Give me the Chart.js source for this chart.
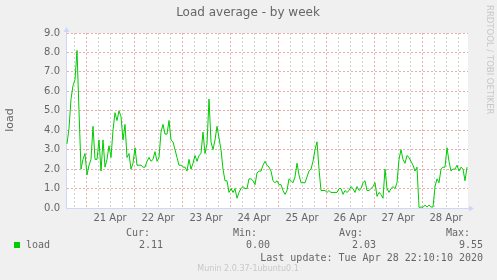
<!DOCTYPE html>
<html>
<head>
<meta charset="utf-8">
<script src="https://cdn.jsdelivr.net/npm/chart.js@4.4.1/dist/chart.umd.min.js"></script>
<style>
  html, body { margin: 0; padding: 0; background: #f0f0f0; }
  canvas { display: block; }
</style>
</head>
<body>
<canvas id="load" width="497" height="280"></canvas>
<script>
// hours are counted from 21 Apr 00:00, one sample per hour
const firstSampleHour = -9.5;
const sampleStep = 1;
const axisMinHour = -10;
const axisMaxHour = 191;

const dayLabels = ["21 Apr", "22 Apr", "23 Apr", "24 Apr", "25 Apr", "26 Apr", "27 Apr", "28 Apr"];

const loadValues = [
  3.3, 4.1, 5.6, 6.3, 6.6, 8.1, 5.0, 2.0, 2.5, 2.8, 1.7, 2.2, 2.5, 4.2, 2.5, 2.5, 3.5, 1.9, 3.5, 2.1,
  2.5, 3.2, 2.6, 4.0, 4.9, 4.5, 5.0, 4.7, 3.5, 4.3, 2.6, 2.8, 2.0, 2.3, 3.1,
  2.2, 2.2, 2.2, 2.1, 2.1, 2.4, 2.6, 2.4, 2.5, 2.9, 2.4, 2.6, 3.9, 4.3, 3.8, 3.8, 4.5, 3.5, 3.4, 3.0,
  2.6, 2.2, 2.2, 2.1, 2.1, 1.9, 2.5, 2.0, 2.3, 2.7, 2.4, 2.7, 2.8, 3.9,
  2.8, 3.3, 5.6, 3.4, 3.0, 3.5, 4.2, 3.6, 3.0, 2.0, 1.4, 1.4, 0.8, 1.0, 0.8, 1.0, 0.5, 0.8, 1.0, 1.1,
  1.0, 1.0, 1.5, 1.5, 1.4, 1.2, 1.8, 1.9, 1.9, 2.2, 2.4, 2.2, 2.1, 1.9,
  1.4, 1.3, 1.4, 1.2, 1.2, 0.9, 0.7, 0.9, 1.5, 1.4, 1.3, 1.6, 2.3, 1.7, 1.3, 1.3, 1.3, 1.6, 1.9, 2.0,
  2.4, 3.0, 3.4, 2.0, 0.9, 0.9, 0.9, 0.8, 0.9, 0.8, 0.8, 0.8, 0.8, 1.0,
  1.0, 0.7, 0.9, 0.8, 0.9, 1.1, 1.0, 0.8, 1.1, 0.9, 1.0, 1.3, 1.4, 0.9, 0.9, 1.0, 1.1, 1.3, 0.6, 0.8,
  0.7, 0.5, 2.0, 1.0, 0.8, 1.0, 1.1, 1.0, 1.3, 2.5, 3.0, 2.5, 2.3, 2.7,
  2.6, 2.4, 2.2, 1.9, 2.1, 0.03, 0.05, 0.03, 0.15, 0.05, 0.15, 0.05, 0.05, 1.1, 1.5, 1.3, 2.0, 2.1, 2.1, 3.1,
  2.4, 1.9, 2.0, 2.0, 2.2, 1.9, 2.1, 2.0, 1.4, 2.1
];

const legendName = "load";
const statLabels = ["Cur:", "Min:", "Avg:", "Max:"];
const statValues = ["2.11", "0.00", "2.03", "9.55"];
const lastUpdate = "Last update: Tue Apr 28 22:10:10 2020";
const versionText = "Munin 2.0.37-1ubuntu0.1";

const GREEN = "#00cc00";
const FONT_COL = "#666666";
const AXIS_COL = "#cfd6f8";
const GRID_COL = "#d2d2d2";
const MGRID_COL = "#edaaaa";

const points = loadValues.map((v, i) => ({ x: firstSampleHour + i * sampleStep, y: v }));

const muninFrame = {
  id: "muninFrame",
  beforeDraw(chart) {
    const { ctx, chartArea: a } = chart;
    ctx.save();
    ctx.fillStyle = "#f0f0f0";
    ctx.fillRect(0, 0, chart.width, chart.height);
    ctx.fillStyle = "#ffffff";
    ctx.fillRect(a.left, a.top, a.right - a.left, a.bottom - a.top);
    ctx.restore();
  },
  afterDraw(chart) {
    const { ctx, chartArea: a } = chart;
    ctx.save();

    // axis arrows
    ctx.strokeStyle = AXIS_COL;
    ctx.fillStyle = AXIS_COL;
    ctx.lineWidth = 1;
    ctx.beginPath();
    ctx.moveTo(a.left + 0.5, a.top);
    ctx.lineTo(a.left + 0.5, a.top - 3);
    ctx.moveTo(a.right, a.bottom + 0.5);
    ctx.lineTo(a.right + 3, a.bottom + 0.5);
    ctx.stroke();
    ctx.beginPath();
    ctx.moveTo(a.left + 0.5, a.top - 6);
    ctx.lineTo(a.left - 2.5, a.top - 1);
    ctx.lineTo(a.left + 3.5, a.top - 1);
    ctx.fill();
    ctx.beginPath();
    ctx.moveTo(a.right + 6, a.bottom + 0.5);
    ctx.lineTo(a.right + 1, a.bottom - 2.5);
    ctx.lineTo(a.right + 1, a.bottom + 3.5);
    ctx.fill();

    // title
    ctx.fillStyle = FONT_COL;
    ctx.font = "12px 'DejaVu Sans'";
    ctx.textAlign = "center";
    ctx.textBaseline = "middle";
    ctx.fillText("Load average - by week", 248, 13);

    // vertical axis title
    ctx.save();
    ctx.translate(10, 120);
    ctx.rotate(-Math.PI / 2);
    ctx.font = "11px 'DejaVu Sans'";
    ctx.fillText("load", 0, 0);
    ctx.restore();

    // watermark
    ctx.save();
    ctx.translate(489, 5);
    ctx.rotate(Math.PI / 2);
    ctx.fillStyle = "#c8c8c8";
    ctx.font = "8.5px 'DejaVu Sans'";
    ctx.textAlign = "left";
    ctx.fillText("RRDTOOL / TOBI OETIKER", 0, 0);
    ctx.restore();

    // legend
    ctx.fillStyle = GREEN;
    ctx.fillRect(14, 242, 6, 6);
    ctx.fillStyle = FONT_COL;
    ctx.font = "10px 'DejaVu Sans Mono'";
    ctx.textAlign = "left";
    ctx.fillText(legendName, 26, 245);
    const labelRight = [150, 257, 363, 470];
    ctx.textAlign = "right";
    statLabels.forEach((s, i) => {
      ctx.fillText(s, labelRight[i], 233);
      ctx.fillText(statValues[i], labelRight[i] + 13, 245);
    });
    ctx.fillText(lastUpdate, 483, 258);

    ctx.fillStyle = "#c8c8c8";
    ctx.font = "8px 'DejaVu Sans'";
    ctx.textAlign = "center";
    ctx.fillText(versionText, 248, 269);
    ctx.restore();
  }
};

const ctx = document.getElementById("load").getContext("2d");
const chart = new Chart(ctx, {
  type: "line",
  data: {
    datasets: [
      {
        label: legendName,
        data: points,
        borderColor: GREEN,
        borderWidth: 1,
        pointRadius: 0,
        tension: 0,
        fill: false,
      },
    ],
  },
  options: {
    responsive: false,
    animation: false,
    layout: { padding: { top: 33, right: 29, left: 0, bottom: 0 } },
    plugins: { legend: { display: false }, tooltip: { enabled: false } },
    scales: {
      x: {
        type: "linear",
        min: axisMinHour,
        max: axisMaxHour,
        afterFit: (s) => { s.height = 72; },
        afterBuildTicks: (s) => {
          const ticks = [];
          for (let h = -6; h <= 186; h += 6) ticks.push({ value: h });
          s.ticks = ticks;
        },
        grid: {
          drawTicks: false,
          lineWidth: 1,
          color: (c) => (c.tick && c.tick.value % 24 === 0 ? MGRID_COL : GRID_COL),
        },
        border: { color: AXIS_COL, dash: [2, 2] },
        ticks: {
          autoSkip: false,
          maxRotation: 0,
          padding: 4,
          color: FONT_COL,
          font: { family: "DejaVu Sans", size: 10 },
          callback: (v) => (v % 24 === 12 ? dayLabels[(v - 12) / 24] : ""),
        },
      },
      y: {
        min: 0,
        max: 9,
        afterFit: (s) => { s.width = 66; },
        grid: {
          drawTicks: false,
          lineWidth: 1,
          color: (c) => (c.tick && Number.isInteger(c.tick.value) ? MGRID_COL : GRID_COL),
        },
        border: { color: AXIS_COL, dash: [2, 2] },
        ticks: {
          stepSize: 0.5,
          padding: 6,
          color: FONT_COL,
          font: { family: "DejaVu Sans", size: 10 },
          callback: (v) => (Number.isInteger(v) ? v.toFixed(1) : ""),
        },
      },
    },
  },
  plugins: [muninFrame],
});
</script>
</body>
</html>
